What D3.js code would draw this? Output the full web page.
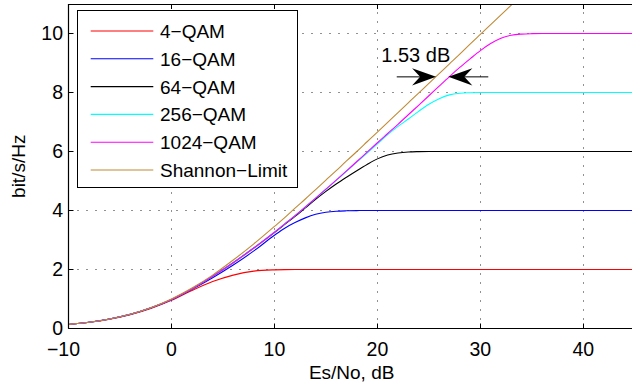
<!DOCTYPE html>
<html><head><meta charset="utf-8">
<script src="https://cdn.jsdelivr.net/npm/d3@7"></script>
<style>
body{margin:0;background:#fff;}
text{font-family:"Liberation Sans",Arial,Helvetica,sans-serif;fill:#000;}
</style></head>
<body>
<svg id="c" width="632" height="390"></svg>
<script>
// Es/No in dB (x positions of sampled values)
const esNo = [-10,-8,-6,-4,-2,0,2,4,6,8, 10,11,12,13,14,15,16,17,18,19, 20,21,22,23,24,25,26,27,28,29, 30,31,32,33,34,35,36,40,45];
const qam4 = [0.136,0.210,0.318,0.470,0.680,0.955,1.29,1.59,1.81,1.945, 1.988,1.996,1.999,2,2,2,2,2,2,2, 2,2,2,2,2,2,2,2,2,2, 2,2,2,2,2,2,2,2,2];
const qam16 = [0.137,0.212,0.321,0.478,0.695,0.975,1.33,1.72,2.15,2.63, 3.16,3.40,3.59,3.75,3.87,3.94,3.975,3.99,3.997,4, 4,4,4,4,4,4,4,4,4,4, 4,4,4,4,4,4,4,4,4];
const qam64 = [0.137,0.212,0.322,0.480,0.700,0.985,1.35,1.77,2.23,2.73, 3.25,3.53,3.80,4.09,4.38,4.65,4.90,5.13,5.35,5.56, 5.75,5.88,5.95,5.985,5.996,6,6,6,6,6, 6,6,6,6,6,6,6,6,6];
const qam256 = [0.137,0.212,0.322,0.480,0.700,0.985,1.35,1.77,2.23,2.73, 3.264,3.545,3.826,4.12,4.42,4.72,5.02,5.33,5.64,5.95, 6.26,6.57,6.85,7.10,7.36,7.60,7.79,7.92,7.975,7.993, 7.999,8,8,8,8,8,8,8,8];
const qam1024 = [0.137,0.212,0.322,0.480,0.700,0.985,1.35,1.77,2.23,2.73, 3.264,3.545,3.826,4.122,4.421,4.723,5.028,5.341,5.660,5.976, 6.297,6.609,6.921,7.245,7.565,7.889,8.217,8.541,8.85,9.14, 9.42,9.66,9.84,9.94,9.98,9.995,10,10,10];
const shannon = [0.138,0.212,0.323,0.484,0.706,1.0,1.37,1.81,2.32,2.87, 3.46,3.76,4.08,4.39,4.71,5.03,5.35,5.68,6.00,6.33, 6.66,6.99,7.32,7.65,7.98,8.31,8.64,8.97,9.30,9.64, 9.97,10.30,10.63,10.96,11.29,null,null,null,null];

const seriesNames = ["4\u2212QAM","16\u2212QAM","64\u2212QAM","256\u2212QAM","1024\u2212QAM","Shannon\u2212Limit"];
const seriesColors = ["#ff0000","#0000ff","#000000","#00ffff","#ff00ff","#c08a35"];
const seriesValues = [qam4,qam16,qam64,qam256,qam1024,shannon];

const xTicks = [-10,0,10,20,30,40];
const yTicks = [0,2,4,6,8,10];
const xLabel = "Es/No, dB";
const yLabel = "bit/s/Hz";
const gapLabel = "1.53 dB";
const gapArrowY = 8.53;
const gapArrowLeft = [21.88, 25.70];
const gapArrowRight = [30.77, 26.89];
const gapLabelPos = [23.73, 9.03];

const svg = d3.select("#c");
const x = d3.scaleLinear().domain([-10,45]).range([68.5,634.8]);
const y = d3.scaleLinear().domain([0,11]).range([328.5,4]);
const L = x(-10), R = x(45), T = y(11), B = y(0);

svg.append("defs").append("clipPath").attr("id","clip")
  .append("rect").attr("x",L).attr("y",T).attr("width",R-L).attr("height",B-T);

// grid
const grid = svg.append("g").attr("stroke","#222").attr("stroke-width",1).attr("stroke-dasharray","1,8");
xTicks.filter(v=>v>-10).forEach(v=>{
  const px = Math.floor(x(v))+0.5;
  grid.append("line").attr("x1",px).attr("x2",px).attr("y1",B).attr("y2",T);
});
yTicks.filter(v=>v>0).forEach(v=>{
  const py = Math.floor(y(v))+0.5;
  grid.append("line").attr("y1",py).attr("y2",py).attr("x1",L).attr("x2",R);
});

// curves
const pts = esNo.map((d,i)=>i);
const plot = svg.append("g").attr("clip-path","url(#clip)");
seriesValues.forEach((vals,k)=>{
  const line = d3.line()
    .defined(i=>vals[i]!==null)
    .x(i=>x(esNo[i])).y(i=>y(vals[i]))
    .curve(d3.curveMonotoneX);
  plot.append("path").attr("d",line(pts)).attr("fill","none")
    .attr("stroke",seriesColors[k]).attr("stroke-width",1.1);
});

// axes box
svg.append("line").attr("x1",L).attr("x2",L).attr("y1",T).attr("y2",B).attr("stroke","#000").attr("stroke-width",1.2);
svg.append("line").attr("x1",L).attr("x2",R).attr("y1",B).attr("y2",B).attr("stroke","#000").attr("stroke-width",1.2);
svg.append("line").attr("x1",L).attr("x2",R).attr("y1",T+0.5).attr("y2",T+0.5).attr("stroke","#000").attr("stroke-width",1.2);

// ticks (inward)
const tk = svg.append("g").attr("stroke","#000").attr("stroke-width",1);
xTicks.forEach(v=>{
  const px = Math.floor(x(v))+0.5;
  tk.append("line").attr("x1",px).attr("x2",px).attr("y1",B).attr("y2",B-5);
  tk.append("line").attr("x1",px).attr("x2",px).attr("y1",T).attr("y2",T+5);
});
yTicks.forEach(v=>{
  const py = Math.floor(y(v))+0.5;
  tk.append("line").attr("x1",L).attr("x2",L+5).attr("y1",py).attr("y2",py);
});

// tick labels
const fs = 19;
xTicks.forEach(v=>{
  svg.append("text").attr("x",x(v)-(v<0?5:0)).attr("y",356).attr("text-anchor","middle")
    .attr("font-size",19.5).text(v<0?"\u2212"+Math.abs(v):String(v));
});
yTicks.forEach(v=>{
  svg.append("text").attr("x",63).attr("y",y(v)+6).attr("text-anchor","end")
    .attr("font-size",19.5).text(String(v));
});
svg.append("text").attr("x",(L+R)/2).attr("y",379).attr("text-anchor","middle").attr("font-size",fs).text(xLabel);
svg.append("text").attr("transform",`translate(25,${(T+B)/2}) rotate(-90)`).attr("text-anchor","middle").attr("font-size",fs).text(yLabel);

// legend
const lg = svg.append("g");
lg.append("rect").attr("x",77.5).attr("y",10.5).attr("width",220).attr("height",177)
  .attr("fill","#fff").attr("stroke","#000").attr("stroke-width",1);
seriesNames.forEach((n,k)=>{
  const ry = 31 + k*27.8;
  lg.append("line").attr("x1",90.7).attr("x2",153.3).attr("y1",ry).attr("y2",ry)
    .attr("stroke",seriesColors[k]).attr("stroke-width",1.1);
  lg.append("text").attr("x",160).attr("y",ry+7).attr("font-size",fs).text(n);
});

// annotation
const ay = y(gapArrowY);
function arrow(from,to){
  const x0 = x(from), x1 = x(to);
  const dir = Math.sign(x1-x0);
  svg.append("line").attr("x1",x0).attr("x2",x1-dir*10).attr("y1",ay).attr("y2",ay).attr("stroke","#000").attr("stroke-width",1);
  const p = d3.path();
  p.moveTo(x1,ay);
  p.lineTo(x1-dir*24,ay-8.7);
  p.lineTo(x1-dir*16,ay);
  p.lineTo(x1-dir*24,ay+8.7);
  p.closePath();
  svg.append("path").attr("d",p.toString()).attr("fill","#000");
}
arrow(gapArrowLeft[0],gapArrowLeft[1]);
arrow(gapArrowRight[0],gapArrowRight[1]);
svg.append("text").attr("x",x(gapLabelPos[0])).attr("y",y(gapLabelPos[1])).attr("text-anchor","middle").attr("font-size",20).text(gapLabel);
</script>
</body></html>
